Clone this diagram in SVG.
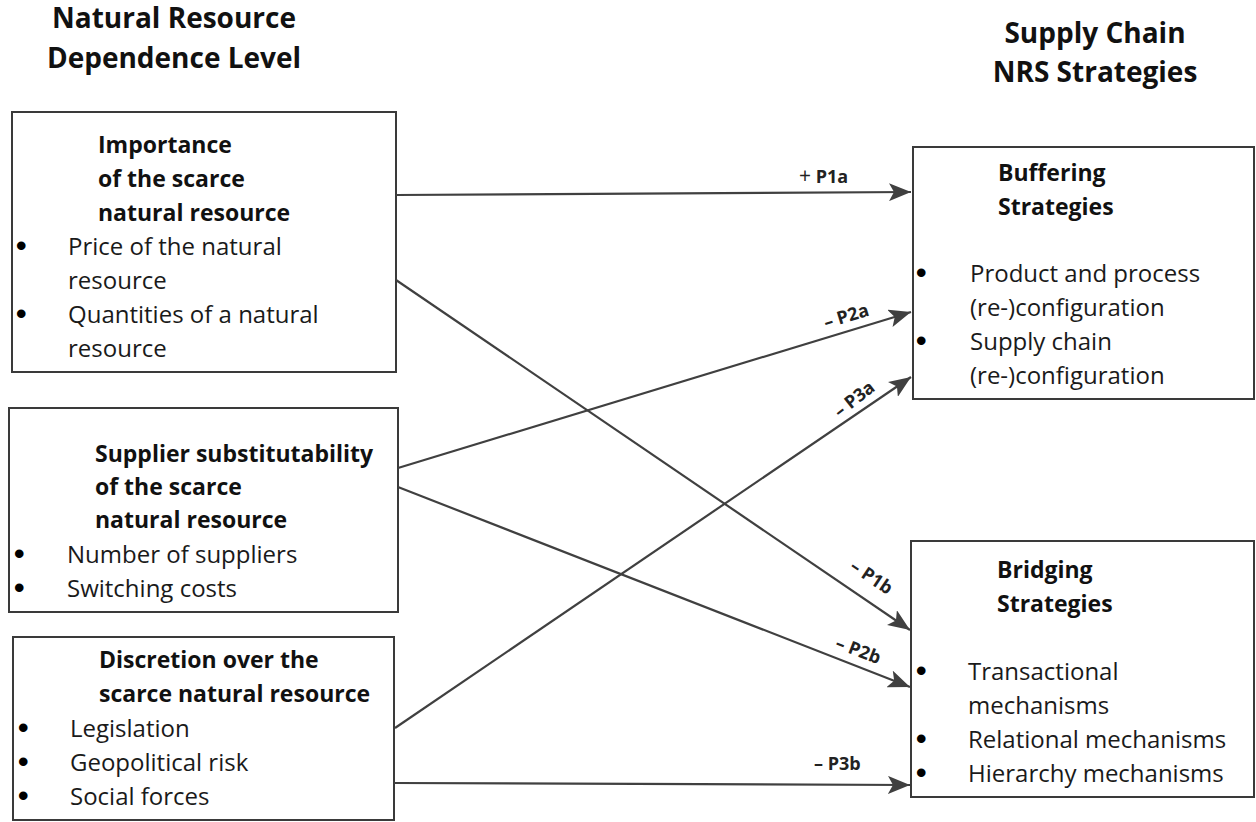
<svg xmlns="http://www.w3.org/2000/svg" width="1256" height="822" viewBox="0 0 1256 822">
<defs>
<marker id="arr" markerUnits="userSpaceOnUse" markerWidth="24" markerHeight="18" refX="22" refY="9" orient="auto">
<path d="M0,0 L22,9 L0,18 L5,9 Z" fill="#404040"/>
</marker>
<style>
.box{fill:#fff;stroke:#3a3a3a;stroke-width:2}
.t{font-family:"Open Sans","Liberation Sans",sans-serif;font-size:24px;fill:#1a1a1a}
.d{font-family:"Liberation Sans",sans-serif;font-size:30px;font-weight:bold;fill:#000}
.b{font-family:"Open Sans","Liberation Sans",sans-serif;font-size:23px;font-weight:bold;fill:#111}
.h{font-family:"Open Sans","Liberation Sans",sans-serif;font-size:28px;font-weight:bold;fill:#111;text-anchor:middle}
.lbl{font-family:"Open Sans","Liberation Sans",sans-serif;font-size:18px;font-weight:bold;fill:#222}
.c{fill:none;stroke:#404040;stroke-width:2.2;marker-end:url(#arr)}
</style>
</defs>
<rect width="1256" height="822" fill="#fff"/>
<g id="headers">
<text class="h" x="174" y="28">Natural Resource</text>
<text class="h" x="174" y="68">Dependence Level</text>
<text class="h" x="1095" y="43">Supply Chain</text>
<text class="h" x="1095" y="82">NRS Strategies</text>
</g>
<g id="importance">
<rect class="box" x="12" y="112" width="384" height="260"/>
<text class="b" x="98" y="153">Importance</text>
<text class="b" x="98" y="187">of the scarce</text>
<text class="b" x="98" y="221">natural resource</text>
<text class="d" x="16" y="256">•</text>
<text class="t" x="68" y="255">Price of the natural</text>
<text class="t" x="68" y="289">resource</text>
<text class="d" x="16" y="324">•</text>
<text class="t" x="68" y="323">Quantities of a natural</text>
<text class="t" x="68" y="357">resource</text>
</g>
<g id="substitutability">
<rect class="box" x="9" y="408" width="389" height="204"/>
<text class="b" x="95" y="462">Supplier substitutability</text>
<text class="b" x="95" y="495">of the scarce</text>
<text class="b" x="95" y="528">natural resource</text>
<text class="d" x="14" y="564">•</text>
<text class="t" x="67" y="563">Number of suppliers</text>
<text class="d" x="14" y="598">•</text>
<text class="t" x="67" y="597">Switching costs</text>
</g>
<g id="discretion">
<rect class="box" x="13" y="637" width="381" height="183"/>
<text class="b" x="99" y="668">Discretion over the</text>
<text class="b" x="99" y="702">scarce natural resource</text>
<text class="d" x="18" y="738">•</text>
<text class="t" x="70" y="737">Legislation</text>
<text class="d" x="18" y="772">•</text>
<text class="t" x="70" y="771">Geopolitical risk</text>
<text class="d" x="18" y="806">•</text>
<text class="t" x="70" y="805">Social forces</text>
</g>
<g id="buffering">
<rect class="box" x="913" y="147" width="341" height="252"/>
<text class="b" x="998" y="181">Buffering</text>
<text class="b" x="998" y="215">Strategies</text>
<text class="d" x="916" y="283">•</text>
<text class="t" x="970" y="282">Product and process</text>
<text class="t" x="970" y="316">(re-)configuration</text>
<text class="d" x="916" y="351">•</text>
<text class="t" x="970" y="350">Supply chain</text>
<text class="t" x="970" y="384">(re-)configuration</text>
</g>
<g id="bridging">
<rect class="box" x="911" y="541" width="343" height="256"/>
<text class="b" x="997" y="578">Bridging</text>
<text class="b" x="997" y="612">Strategies</text>
<text class="d" x="916" y="681">•</text>
<text class="t" x="968" y="680">Transactional</text>
<text class="t" x="968" y="714">mechanisms</text>
<text class="d" x="916" y="749">•</text>
<text class="t" x="968" y="748">Relational mechanisms</text>
<text class="d" x="916" y="783">•</text>
<text class="t" x="968" y="782">Hierarchy mechanisms</text>
</g>
<g id="connectors">
<path class="c" d="M396,195 L911,192"/>
<path class="c" d="M396,280 L910,630"/>
<path class="c" d="M398,468 L911,312"/>
<path class="c" d="M398,487 L910,687"/>
<path class="c" d="M395,728 L911,377"/>
<path class="c" d="M394,783 L910,785"/>
</g>
<g id="labels">
<text class="lbl" x="799" y="183"><tspan font-weight="normal" font-size="21">+</tspan> P1a</text>
<text class="lbl" transform="translate(848,322) rotate(-17)" text-anchor="middle">– P2a</text>
<text class="lbl" transform="translate(858,404) rotate(-38)" text-anchor="middle">– P3a</text>
<text class="lbl" transform="translate(868,582) rotate(34)" text-anchor="middle">– P1b</text>
<text class="lbl" transform="translate(856,656) rotate(21)" text-anchor="middle">– P2b</text>
<text class="lbl" x="814" y="770">– P3b</text>
</g>
</svg>
